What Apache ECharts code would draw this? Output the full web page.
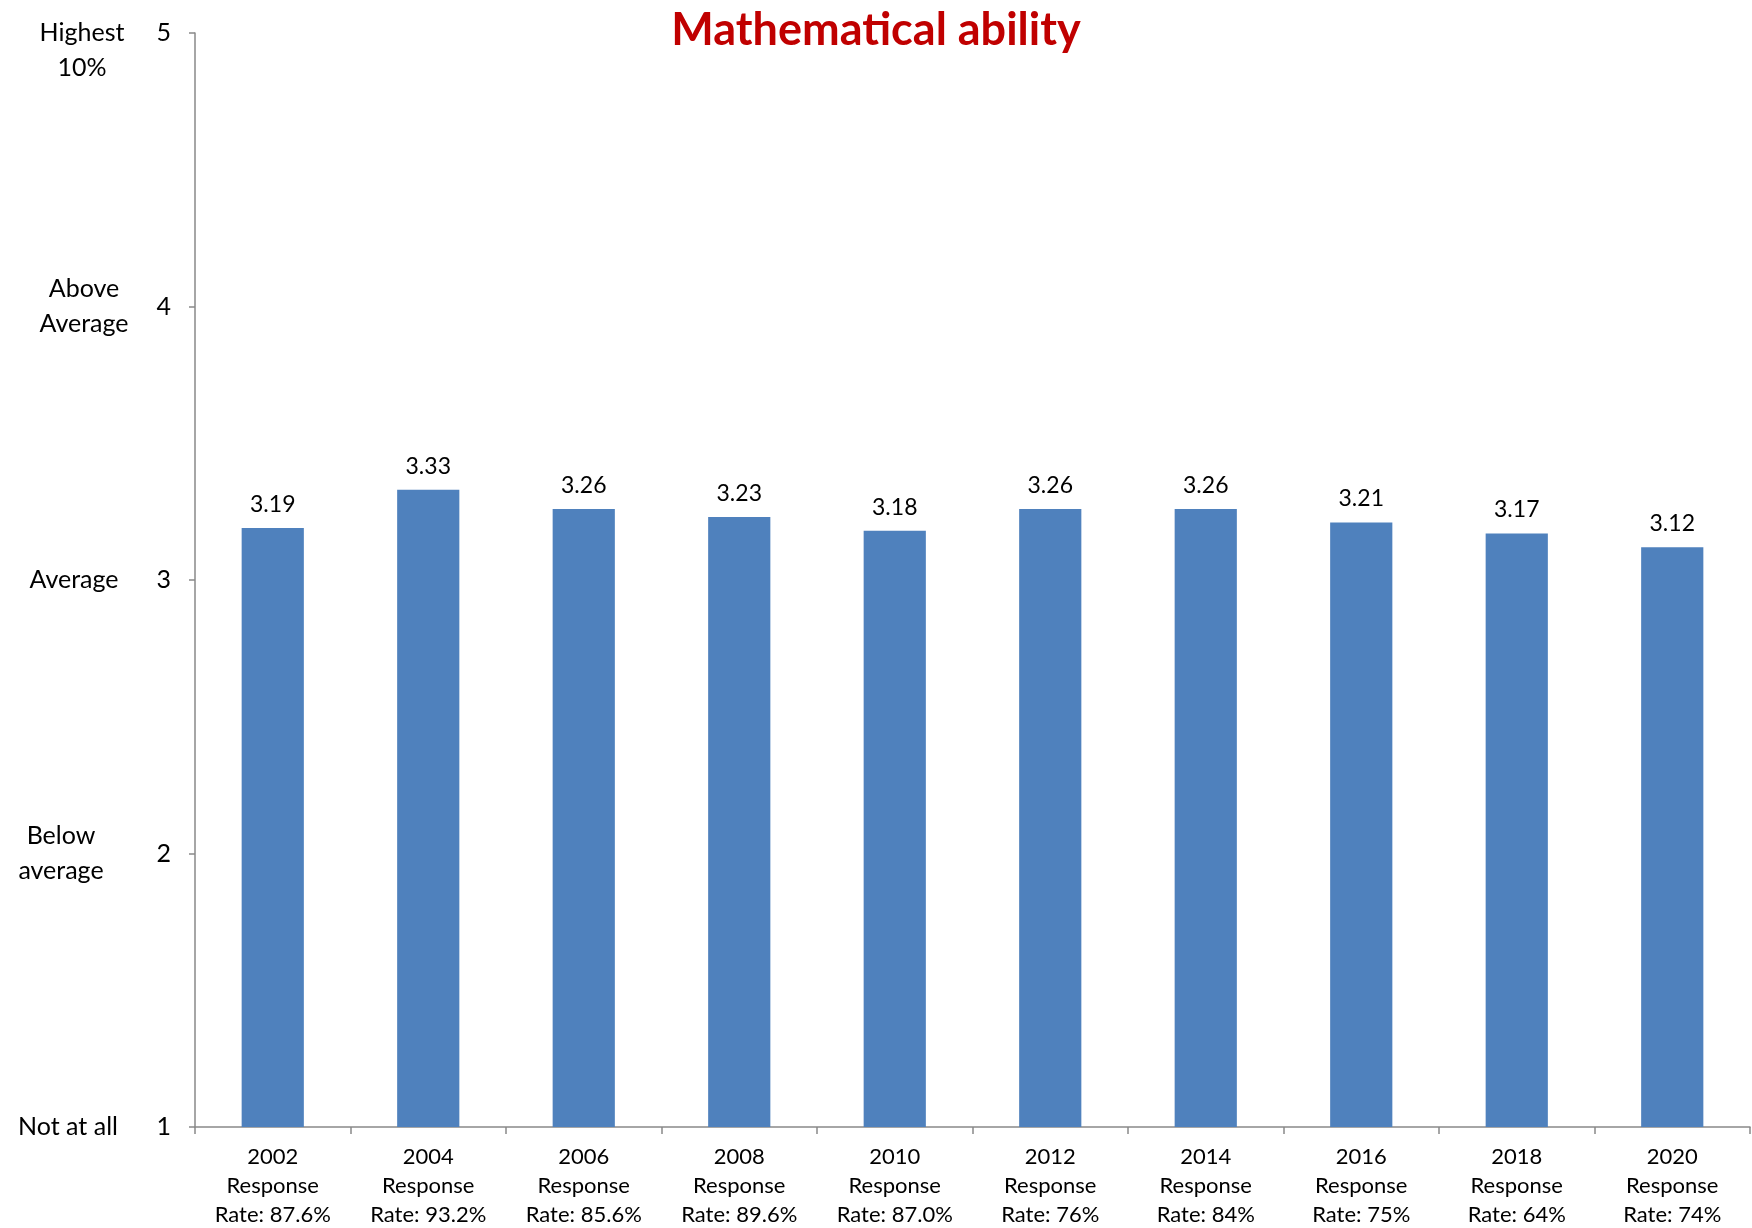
<!DOCTYPE html>
<html>
<head>
<meta charset="utf-8">
<script src="https://cdn.jsdelivr.net/npm/echarts@6/dist/echarts.min.js"></script>
<style>
  html, body { margin: 0; padding: 0; background: #fff; }
  #chart { width: 1752px; height: 1228px; }
</style>
</head>
<body>
<div id="chart"></div>
<script>
var years = ['2002', '2004', '2006', '2008', '2010', '2012', '2014', '2016', '2018', '2020'];
var rates = ['87.6%', '93.2%', '85.6%', '89.6%', '87.0%', '76%', '84%', '75%', '64%', '74%'];
var scores = [3.19, 3.33, 3.26, 3.23, 3.18, 3.26, 3.26, 3.21, 3.17, 3.12];
var levelNames = {
    1: '{n|Not at all}',
    2: '{b|Below}\n{b|average}',
    3: '{m|Average}',
    4: '{a|Above}\n{a|Average}',
    5: '\n{h|Highest}\n{h|10%}'
};

var categories = years.map(function (y, i) {
    return y + '\nResponse\nRate: ' + rates[i];
});

var chart = echarts.init(document.getElementById('chart'));
var font = 'Lato, "Open Sans", sans-serif';

var option = {
    animation: false,
    title: {
        text: 'Mathematical ability',
        left: 'center',
        top: 3,
        textStyle: {
            color: '#C00000',
            fontSize: 45,
            fontWeight: 'bold',
            fontFamily: font
        }
    },
    grid: {
        left: 195,
        right: 2,
        top: 33,
        bottom: 101,
        containLabel: false,
        outerBoundsMode: 'none'
    },
    xAxis: {
        type: 'category',
        data: categories,
        axisLine: { lineStyle: { color: '#898989', width: 1.5 } },
        axisTick: { show: true, length: 7, lineStyle: { color: '#898989', width: 1.5 } },
        axisLabel: {
            margin: 15,
            color: '#000',
            fontSize: 22,
            lineHeight: 29,
            fontFamily: font,
            interval: 0
        }
    },
    yAxis: [{
        type: 'value',
        min: 1,
        max: 5,
        interval: 1,
        splitLine: { show: false },
        axisLine: { show: true, lineStyle: { color: '#898989', width: 1.5 } },
        axisTick: { show: true, length: 6, lineStyle: { color: '#898989', width: 1.5 } },
        axisLabel: {
            margin: 24,
            color: '#000',
            fontSize: 25,
            fontFamily: font
        }
    }, {
        type: 'value',
        position: 'left',
        min: 1,
        max: 5,
        interval: 1,
        splitLine: { show: false },
        axisLine: { show: false },
        axisTick: { show: false },
        axisLabel: {
            margin: 122,
            align: 'center',
            color: '#000',
            fontSize: 25,
            lineHeight: 35,
            fontFamily: font,
            formatter: function (v) { return levelNames[v] || ''; },
            rich: {
                h: { fontSize: 25, lineHeight: 35, padding: [0, 0, 0, 18] },
                a: { fontSize: 25, lineHeight: 35, padding: [0, 0, 0, 22] },
                m: { fontSize: 25, lineHeight: 35, padding: [0, 0, 0, 2] },
                b: { fontSize: 25, lineHeight: 35, padding: [0, 24, 0, 0] },
                n: { fontSize: 25, lineHeight: 35, padding: [0, 10, 0, 0] }
            }
        }
    }],
    series: [{
        type: 'bar',
        data: scores,
        barWidth: '40%',
        itemStyle: { color: '#4F81BD' },
        label: {
            show: true,
            position: 'top',
            distance: 12,
            color: '#000',
            fontSize: 23,
            fontFamily: font,
            formatter: function (p) { return p.value.toFixed(2); }
        }
    }]
};

chart.setOption(option);
</script>
</body>
</html>
